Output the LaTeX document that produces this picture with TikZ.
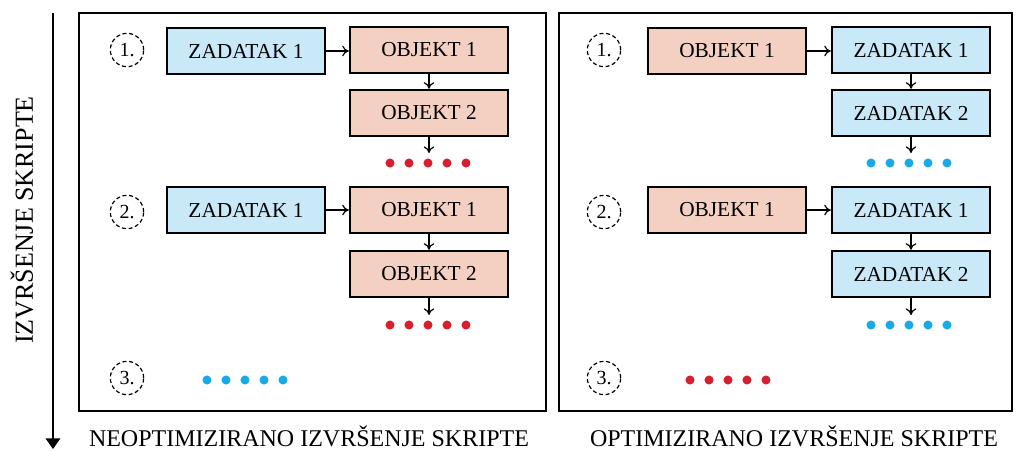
\documentclass[tikz,border=0pt]{standalone}
\usepackage{fontspec}
\setmainfont{Liberation Serif}
\usetikzlibrary{arrows.meta,positioning}
\definecolor{zadfill}{HTML}{C9E8F8}
\definecolor{objfill}{HTML}{F3D0C1}
\definecolor{dotred}{HTML}{D62030}
\definecolor{dotblue}{HTML}{19A9E6}

\begin{document}
\begin{tikzpicture}[x=0.75pt, y=-0.75pt, every node/.style={font=\fontsize{16}{18}\selectfont},
    zadbox/.style={draw, line width=1.3pt, fill=zadfill, minimum width=119pt, minimum height=35pt, inner sep=0pt},
    objbox/.style={draw, line width=1.3pt, fill=objfill, minimum width=119pt, minimum height=35pt, inner sep=0pt},
    korak/.style={draw, circle, densely dashed, line width=0.9pt, minimum size=25pt, inner sep=0pt, font=\fontsize{15}{16}\selectfont},
    veza/.style={-{To[length=5pt,width=8pt]}, line width=0.9pt},
    okvir/.style={line width=1.3pt}]
  \useasboundingbox (0,0) rectangle (1016,450);

  % vremenska os
  \coordinate (osA) at (53,13);
  \coordinate (osB) at (53,449);
  \draw[line width=1pt, -{Triangle[length=8pt,width=11pt]}] (osA) -- (osB);
  \node[rotate=90, font=\fontsize{19.5}{21}\selectfont] (os) at (22,220) {IZVRŠENJE SKRIPTE};

  % okviri
  \draw[okvir] (79,13) rectangle (546,411);
  \draw[okvir] (559,13) rectangle (1012,411);
  \node[font=\fontsize{18}{20}\selectfont] (lijevo) at (309,436) {NEOPTIMIZIRANO IZVRŠENJE SKRIPTE};
  \node[font=\fontsize{18}{20}\selectfont] (desno) at (794,436) {OPTIMIZIRANO IZVRŠENJE SKRIPTE};

  % lijevo: neoptimizirano
  \node[korak] (k1) at (127,50) {1.};
  \node[korak] (k2) at (127,212) {2.};
  \node[korak] (k3) at (127,378) {3.};
  \node[zadbox] (z1) at (246,51) {ZADATAK 1};
  \node[objbox] (o11) at (429,50) {OBJEKT 1};
  \node[objbox] (o12) at (429,113) {OBJEKT 2};
  \node[zadbox] (z2) at (246,210) {ZADATAK 1};
  \node[objbox] (o21) at (429,210) {OBJEKT 1};
  \node[objbox] (o22) at (429,274) {OBJEKT 2};
  \coordinate (t1) at (429,153);
  \coordinate (t2) at (429,315);
  \draw[veza] (z1) -- (z1 -| o11.west);
  \draw[veza] (o11) -- (o12);
  \draw[veza] (o12) -- (t1);
  \draw[veza] (z2) -- (z2 -| o21.west);
  \draw[veza] (o21) -- (o22);
  \draw[veza] (o22) -- (t2);
  \foreach \x in {390,409,428,447,466}{
    \fill[dotred] (\x,163) circle (3.4pt);
    \fill[dotred] (\x,325) circle (3.4pt);
  }
  \foreach \x in {207,226,245,264,283}
    \fill[dotblue] (\x,380) circle (3.4pt);

  % desno: optimizirano
  \node[korak] (m1) at (604,50) {1.};
  \node[korak] (m2) at (604,212) {2.};
  \node[korak] (m3) at (604,378) {3.};
  \node[objbox] (p1) at (727,51) {OBJEKT 1};
  \node[zadbox] (q11) at (911,50) {ZADATAK 1};
  \node[zadbox] (q12) at (911,113) {ZADATAK 2};
  \node[objbox] (p2) at (727,210) {OBJEKT 1};
  \node[zadbox] (q21) at (911,210) {ZADATAK 1};
  \node[zadbox] (q22) at (911,274) {ZADATAK 2};
  \coordinate (u1) at (911,153);
  \coordinate (u2) at (911,315);
  \draw[veza] (p1) -- (p1 -| q11.west);
  \draw[veza] (q11) -- (q12);
  \draw[veza] (q12) -- (u1);
  \draw[veza] (p2) -- (p2 -| q21.west);
  \draw[veza] (q21) -- (q22);
  \draw[veza] (q22) -- (u2);
  \foreach \x in {871,890,909,928,947}{
    \fill[dotblue] (\x,163) circle (3.4pt);
    \fill[dotblue] (\x,325) circle (3.4pt);
  }
  \foreach \x in {690,709,728,747,766}
    \fill[dotred] (\x,380) circle (3.4pt);
\end{tikzpicture}
\end{document}
